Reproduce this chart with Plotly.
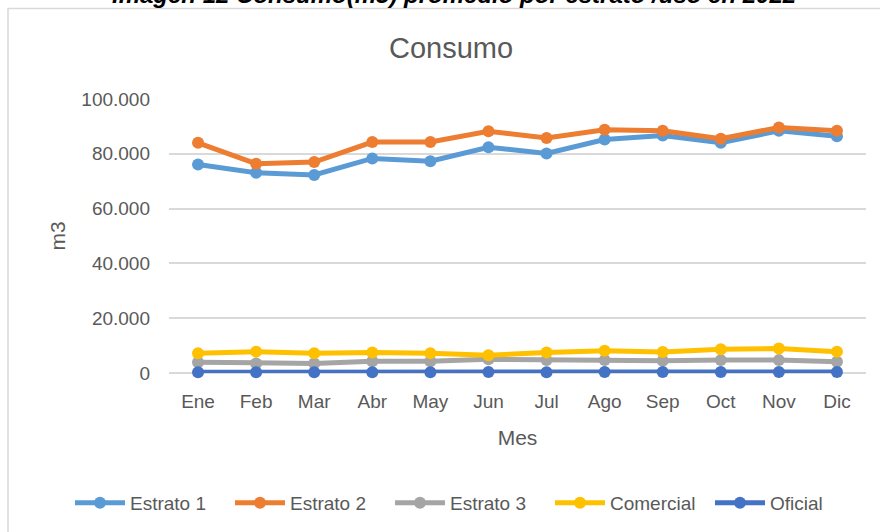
import plotly.graph_objects as go

# Monthly average consumption (m3) by stratum / use, 2022
meses = ["Ene", "Feb", "Mar", "Abr", "May", "Jun", "Jul", "Ago", "Sep", "Oct", "Nov", "Dic"]
estrato_1 = [76100, 73100, 72300, 78300, 77300, 82400, 80100, 85200, 86700, 84000, 88400, 86400]
estrato_2 = [84000, 76400, 77000, 84300, 84300, 88200, 85800, 88800, 88400, 85500, 89600, 88400]
estrato_3 = [3900, 3500, 3500, 4300, 4300, 5000, 4700, 4700, 4500, 4700, 4700, 4100]
comercial = [7200, 7800, 7200, 7500, 7200, 6500, 7500, 8100, 7700, 8700, 8900, 7800]
oficial = [300, 300, 300, 300, 300, 400, 300, 400, 400, 400, 400, 400]
y_ticks = [0, 20000, 40000, 60000, 80000, 100000]

series = [
    ("Estrato 1", estrato_1, "#5B9BD5"),
    ("Estrato 2", estrato_2, "#ED7D31"),
    ("Estrato 3", estrato_3, "#A5A5A5"),
    ("Comercial", comercial, "#FFC000"),
    ("Oficial", oficial, "#4472C4"),
]

FONT = "Liberation Sans"
GREY_TXT = "#595959"
GRID = "#D9D9D9"

fig = go.Figure()
for name, vals, color in series:
    fig.add_trace(go.Scatter(
        x=meses, y=vals, name=name, mode="lines+markers",
        line=dict(color=color, width=5),
        marker=dict(color=color, size=12),
        cliponaxis=False,
    ))

W, H = 880, 532
L, R, T, B = 169, 14, 99, 159
pw, ph = W - L - R, H - T - B


def px_x(px):
    return (px - L) / pw


def px_y(py):
    return (H - B - py) / ph


fig.update_layout(
    width=W, height=H,
    margin=dict(l=L, r=R, t=T, b=B, autoexpand=False),
    paper_bgcolor="white", plot_bgcolor="white",
    separators=",.",
    font=dict(family=FONT, color=GREY_TXT, size=19),
    showlegend=True,
    legend=dict(
        orientation="h", x=px_x(70), xanchor="left",
        y=px_y(503), yanchor="middle",
        font=dict(family=FONT, size=19, color=GREY_TXT),
        itemwidth=50, entrywidth=95, entrywidthmode="pixels",
        tracegroupgap=0, bgcolor="rgba(0,0,0,0)",
    ),
    xaxis=dict(
        range=[-0.5, len(meses) - 0.5],
        showgrid=False, showline=False, zeroline=False,
        tickfont=dict(size=19, color=GREY_TXT), ticklabelstandoff=15,
        title=dict(text="Mes", font=dict(size=21, color=GREY_TXT), standoff=19),
    ),
    yaxis=dict(
        range=[0, 100000], tickvals=y_ticks, tickformat=",d",
        showgrid=True, gridcolor=GRID, gridwidth=1.5,
        zeroline=True, zerolinecolor=GRID, zerolinewidth=1.5, showline=False,
        tickfont=dict(size=19, color=GREY_TXT), ticklabelstandoff=18,
        title=dict(text="m3", font=dict(size=21, color=GREY_TXT), standoff=9),
    ),
    shapes=[dict(
        type="rect", xref="paper", yref="paper",
        x0=px_x(8), x1=px_x(W + 20), y0=px_y(H + 20), y1=px_y(8.5),
        line=dict(color=GRID, width=1.5), fillcolor="rgba(0,0,0,0)", layer="below",
    )],
    annotations=[
        dict(text="Consumo", xref="paper", yref="paper",
             x=px_x(451), y=px_y(48), xanchor="center", yanchor="middle",
             showarrow=False, font=dict(family=FONT, size=29, color=GREY_TXT)),
        dict(text="Imagen 12 Consumo(m3) promedio por estrato /uso en 2022",
             xref="paper", yref="paper", x=px_x(454), y=px_y(-5.5),
             xanchor="center", yanchor="middle", showarrow=False,
             font=dict(family="Liberation Sans", size=24, color="#000000",
                       weight="bold", style="italic")),
    ],
)

fig.write_html("out.html")
